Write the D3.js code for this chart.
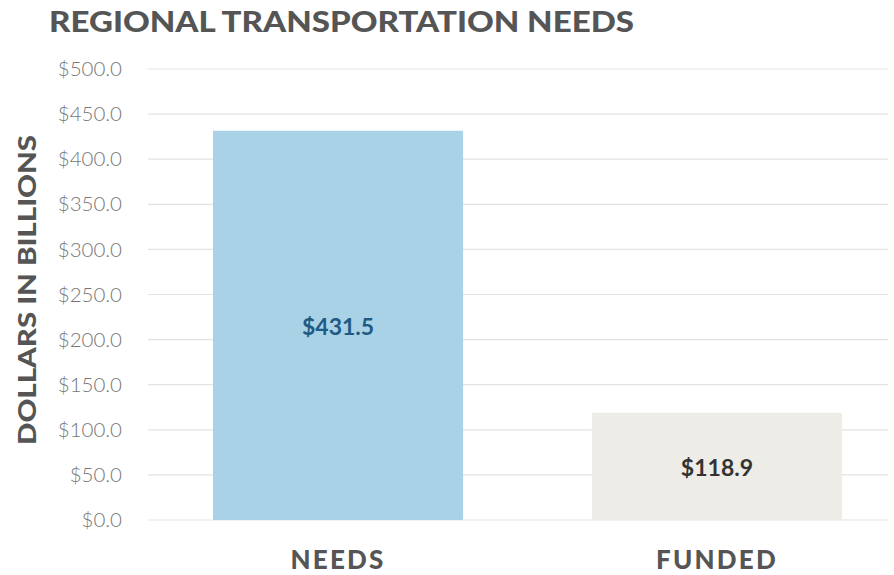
<!DOCTYPE html>
<html>
<head>
<meta charset="utf-8">
<script src="https://cdn.jsdelivr.net/npm/d3@7"></script>
<style>
  body { margin: 0; background: #fff; }
</style>
</head>
<body>
<div id="container"></div>
<script>
// chart data
const categories = ["NEEDS", "FUNDED"];
const values = [431.5, 118.9];
const tickValues = [0, 50, 100, 150, 200, 250, 300, 350, 400, 450, 500];
const barColors = ["#a9d2e6", "#edece7"];
const labelColors = ["#1f5b84", "#333333"];

const width = 894, height = 575;

const svg = d3.select("#container").append("svg")
    .attr("width", width)
    .attr("height", height);

const y = d3.scaleLinear().domain([0, 500]).range([520, 69]);

const x = d3.scaleBand()
    .domain(categories)
    .range([148.6, 906.4])
    .paddingInner(0.34)
    .paddingOuter(0.17);

// gridlines
svg.append("g").selectAll("line").data(tickValues).enter().append("line")
    .attr("x1", 148).attr("x2", 888)
    .attr("y1", d => y(d)).attr("y2", d => y(d))
    .attr("stroke", "#e3e3e3")
    .attr("stroke-width", 1.2);

// y tick labels
svg.append("g").selectAll("text").data(tickValues).enter().append("text")
    .attr("x", 122)
    .attr("y", d => y(d))
    .attr("dy", "0.35em")
    .attr("text-anchor", "end")
    .attr("font-family", "Lato")
    .attr("font-weight", 300)
    .attr("font-size", 20.5)
    .attr("fill", "#777777")
    .text(d => "$" + d3.format(".1f")(d));

// bars
svg.append("g").selectAll("rect").data(values).enter().append("rect")
    .attr("x", (d, i) => x(categories[i]))
    .attr("width", x.bandwidth())
    .attr("y", d => y(d))
    .attr("height", d => y(0) - y(d))
    .attr("fill", (d, i) => barColors[i]);

// value labels
svg.append("g").selectAll("text").data(values).enter().append("text")
    .attr("x", (d, i) => x(categories[i]) + x.bandwidth() / 2)
    .attr("y", d => (y(d) + y(0)) / 2 + 2)
    .attr("dy", "0.35em")
    .attr("text-anchor", "middle")
    .attr("font-family", "Lato")
    .attr("font-weight", 700)
    .attr("font-size", 23)
    .attr("fill", (d, i) => labelColors[i])
    .text(d => "$" + d3.format(".1f")(d));

// x category labels
svg.append("g").selectAll("text").data(categories).enter().append("text")
    .attr("x", d => x(d) + x.bandwidth() / 2)
    .attr("y", 569)
    .attr("text-anchor", "middle")
    .attr("font-family", "Lato")
    .attr("font-weight", 900)
    .attr("font-size", 26)
    .attr("letter-spacing", 2.2)
    .attr("fill", "#555555")
    .text(d => d);

// title
svg.append("text")
    .attr("x", 49)
    .attr("y", 32)
    .attr("font-family", "Lato")
    .attr("font-weight", 900)
    .attr("font-size", 28)
    .attr("fill", "#555555")
    .attr("textLength", 585)
    .attr("lengthAdjust", "spacingAndGlyphs")
    .text("REGIONAL TRANSPORTATION NEEDS");

// y axis title
svg.append("text")
    .attr("transform", "translate(36, 290) rotate(-90)")
    .attr("text-anchor", "middle")
    .attr("font-family", "Lato")
    .attr("font-weight", 900)
    .attr("font-size", 25)
    .attr("fill", "#555555")
    .attr("textLength", 310)
    .attr("lengthAdjust", "spacingAndGlyphs")
    .text("DOLLARS IN BILLIONS");
</script>
</body>
</html>
